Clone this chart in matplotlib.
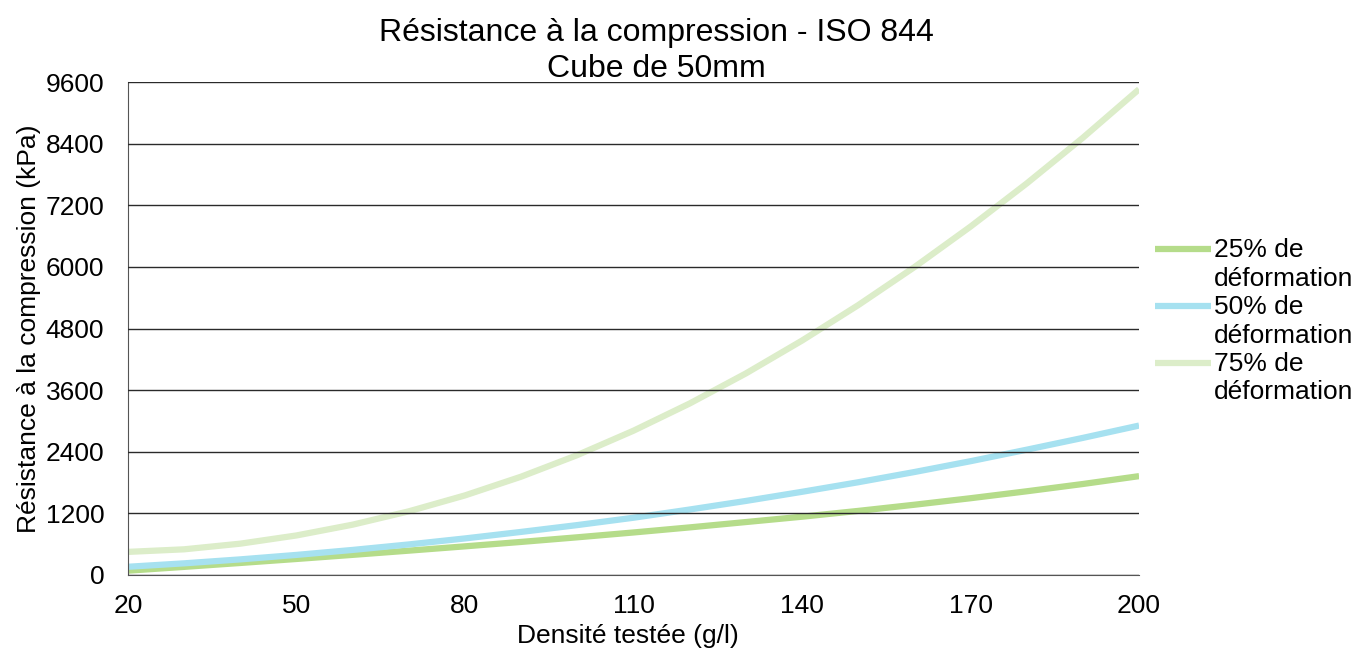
import matplotlib
matplotlib.use("Agg")
import matplotlib.pyplot as plt
from matplotlib.legend_handler import HandlerLine2D

plt.rcParams['font.family'] = ['Liberation Sans', 'DejaVu Sans']

densite = [20, 30, 40, 50, 60, 70, 80, 90, 100, 110, 120, 130, 140, 150, 160, 170, 180, 190, 200]
def_25 = [84, 158, 234, 312, 392, 474, 558, 644, 734, 828, 927, 1031, 1135, 1248, 1368, 1495, 1630, 1772, 1925]
def_50 = [160, 227, 304, 391, 488, 595, 712, 839, 972, 1115, 1275, 1442, 1620, 1806, 2005, 2216, 2440, 2670, 2910]
def_75 = [450, 500, 610, 770, 980, 1240, 1550, 1915, 2335, 2810, 3340, 3925, 4565, 5255, 5995, 6785, 7625, 8515, 9460]

labels = ["25% de\ndéformation", "50% de\ndéformation", "75% de\ndéformation"]
colors = ["#b5dc8a", "#a6e1f0", "#dcedc9"]
FS = 19


class FirstLineHandler(HandlerLine2D):
    # put the legend line next to the first line of a two-line label
    def create_artists(self, legend, orig_handle, xdescent, ydescent, width, height, fontsize, trans):
        arts = super().create_artists(legend, orig_handle, xdescent, ydescent, width, height, fontsize, trans)
        for a in arts:
            a.set_ydata([y + 0.6 * fontsize for y in a.get_ydata()])
        return arts


fig = plt.figure(figsize=(13.57, 6.5), dpi=100)
ax = fig.add_axes([0.0943, 0.1154, 0.7451, 0.7584])

lines = []
for ys, lab, c in zip([def_25, def_50, def_75], labels, colors):
    ln, = ax.plot(densite, ys, color=c, lw=4.5, label=lab, solid_capstyle='butt', zorder=1)
    lines.append(ln)

ax.set_xlim(20, 200)
ax.set_ylim(0, 9600)
ax.set_xticks(range(20, 201, 30))
ax.set_yticks(range(0, 9601, 1200))
ax.yaxis.grid(True, color='#2a2a2a', lw=1)
ax.set_axisbelow(False)
ax.tick_params(axis='y', length=0, labelsize=FS, pad=17)
ax.tick_params(axis='x', length=0, labelsize=FS, pad=14)
for s in ['top', 'right']:
    ax.spines[s].set_visible(False)
for s in ['left', 'bottom']:
    ax.spines[s].set_color('#555555')

ax.set_xlabel("Densité testée (g/l)", fontsize=FS)
ax.set_ylabel("Résistance à la compression (kPa)", fontsize=FS)
ax.xaxis.set_label_coords(0.494, -0.1)
ax.yaxis.set_label_coords(-0.086, 0.5)
fig.text(0.484, 0.973, "Résistance à la compression - ISO 844\nCube de 50mm",
         ha='center', va='top', fontsize=23, linespacing=1.3)

leg = ax.legend(handles=lines, loc='upper left', bbox_to_anchor=(1.016, 0.683), frameon=False, fontsize=FS,
                handlelength=2.1, handletextpad=0.12, labelspacing=0.15, borderaxespad=0,
                borderpad=0, handler_map={l: FirstLineHandler() for l in lines})
for t in leg.get_texts():
    t.set_linespacing(1.25)

fig.savefig("out.png", dpi=100)
